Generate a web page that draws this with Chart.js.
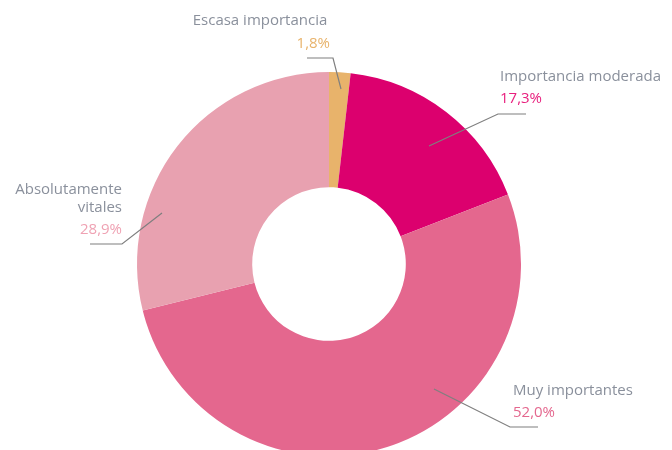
<!DOCTYPE html>
<html>
<head>
<meta charset="utf-8">
<script src="https://cdn.jsdelivr.net/npm/chart.js@4.4.1/dist/chart.umd.min.js"></script>
<style>
  html, body { margin: 0; padding: 0; background: #fff; overflow: hidden; }
  #wrap { position: relative; width: 672px; height: 470px; }
</style>
</head>
<body>
<div id="wrap"><canvas id="donut"></canvas></div>
<script>
// --- data ---
const categories = ['Escasa importancia', 'Importancia moderada', 'Muy importantes', 'Absolutamente vitales'];
const values = [1.8, 17.3, 52.0, 28.9];
const sliceColors = ['#E8B36B', '#DC006E', '#E4678E', '#E8A1B0'];
const valueColors = ['#E8B36B', '#E8207E', '#E4678E', '#EFA2B3'];
const labelLines = [['Escasa importancia'], ['Importancia moderada'], ['Muy importantes'], ['Absolutamente', 'vitales']];

// label layout, offsets from the chart centre
const labelLayout = [
  { x: 1, y: -220, align: 'right', line: [[12, -175], [4, -206], [-22, -206]], textAlign: 'center', textX: -69 },
  { x: 171, y: -187, align: 'left', line: [[100, -118], [169, -150], [197, -150]] },
  { x: 184, y: 127, align: 'left', line: [[105, 125], [181, 163], [209, 163]] },
  { x: -207, y: -74, align: 'right', line: [[-167, -51], [-207, -20], [-239, -20]] }
];

const fmt = v => v.toFixed(1).replace('.', ',') + '%';
const FONT = '"Open Sans", "Noto Sans", sans-serif';

const calloutPlugin = {
  id: 'callouts',
  afterDatasetsDraw(chart) {
    const ctx = chart.ctx;
    const arc = chart.getDatasetMeta(0).data[0];
    const cx = arc.x, cy = arc.y;
    ctx.save();
    labelLayout.forEach((l, i) => {
      // leader line
      ctx.strokeStyle = '#7f7f7f';
      ctx.lineWidth = 1.2;
      ctx.beginPath();
      l.line.forEach(([px, py], k) => {
        if (k === 0) ctx.moveTo(cx + px, cy + py);
        else ctx.lineTo(cx + px, cy + py);
      });
      ctx.stroke();

      ctx.textBaseline = 'middle';
      ctx.font = '15px ' + FONT;
      ctx.fillStyle = '#8A909C';
      let y = cy + l.y;
      if (l.textAlign) {
        ctx.textAlign = l.textAlign;
        ctx.fillText(labelLines[i][0], cx + l.textX, cy + l.y - 23);
      } else {
        ctx.textAlign = l.align;
        labelLines[i].forEach(t => { ctx.fillText(t, cx + l.x, y); y += 18; });
        y += 4;
      }
      ctx.font = '15px ' + FONT;
      ctx.fillStyle = valueColors[i];
      ctx.textAlign = l.align;
      ctx.fillText(fmt(values[i]), cx + l.x, y);
    });
    ctx.restore();
  }
};

new Chart(document.getElementById('donut'), {
  type: 'doughnut',
  data: {
    labels: categories,
    datasets: [{
      data: values,
      backgroundColor: sliceColors,
      borderWidth: 0
    }]
  },
  options: {
    responsive: true,
    maintainAspectRatio: false,
    animation: false,
    cutout: '40%',
    layout: { padding: { top: 72, bottom: 14, left: 0, right: 14 } },
    plugins: {
      legend: { display: false },
      tooltip: { enabled: false }
    }
  },
  plugins: [calloutPlugin]
});
</script>
</body>
</html>
